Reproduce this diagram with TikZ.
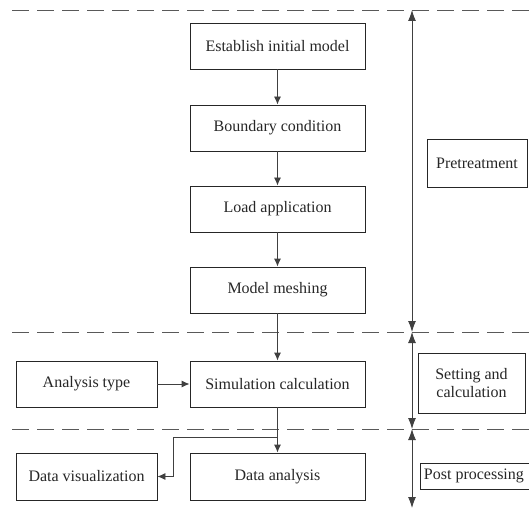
\documentclass[tikz,border=0pt]{standalone}
\usepackage{fontspec}
\setmainfont{Liberation Serif}
\usetikzlibrary{arrows.meta}
\begin{document}
\begin{tikzpicture}[x=1pt,y=-1pt,
  box/.style={draw=black!85,line width=0.9pt,minimum width=175pt,minimum height=46pt,inner sep=0pt,
    font=\fontsize{16}{19}\selectfont,text=black!85,align=center},
  arr/.style={draw=black!75,line width=0.9pt,-{Latex[length=8pt,width=7pt]}},
  darr/.style={draw=black!75,line width=0.9pt,{Latex[length=11pt,width=8pt]}-{Latex[length=11pt,width=8pt]}},
  sep/.style={draw=black!65,line width=0.9pt,dash pattern=on 17pt off 8pt}]
\useasboundingbox (0,0) rectangle (529,510);
% separators
\coordinate (s1l) at (12,10);  \coordinate (s1r) at (529,10);
\coordinate (s2l) at (12,332); \coordinate (s2r) at (529,332);
\coordinate (s3l) at (12,429); \coordinate (s3r) at (529,429);
\draw[sep] (s1l) -- (s1r);
\draw[sep] (s2l) -- (s2r);
\draw[sep] (s3l) -- (s3r);
% main flow
\node[box] (est)  at (277.5,46)  {Establish initial model};
\node[box] (bnd)  at (277.5,128) {Boundary condition};
\node[box] (load) at (277.5,209) {Load application};
\node[box] (mesh) at (277.5,290) {Model meshing};
\node[box] (sim)  at (277.5,384) {Simulation calculation};
\node[box,minimum width=141pt] (atype) at (86.5,384) {Analysis type};
\node[box,minimum width=141pt,minimum height=47pt] (dvis) at (86.5,476.5) {Data visualization};
\node[box,minimum height=47pt] (dana) at (277.5,476.5) {Data analysis};
% right side labels
\node[box,minimum width=100pt,minimum height=48pt] (pre) at (477,163.5) {Pretreatment};
\node[box,minimum width=107pt,minimum height=60pt,font=\fontsize{16}{18}\selectfont] (set) at (471.5,383) {Setting and\\calculation};
\node[box,minimum width=112pt,minimum height=26pt,anchor=west] (post) at (420,476) {\hspace*{-5pt}Post processing};
% connectors
\draw[arr] (est) -- (bnd);
\draw[arr] (bnd) -- (load);
\draw[arr] (load) -- (mesh);
\draw[arr] (mesh) -- (sim);
\draw[arr] (atype) -- (sim);
\draw[arr] (sim) -- (dana);
\coordinate (b1) at (173,437);
\draw[arr] (sim.south) |- (b1) |- (dvis.east);
% stage arrows
\coordinate (r1) at (412,10);
\coordinate (r2) at (412,332);
\coordinate (r3) at (412,429);
\coordinate (r4) at (412,508);
\draw[darr] (r1) -- (r2);
\draw[darr] (r2) -- (r3);
\draw[darr] (r3) -- (r4);
\end{tikzpicture}
\end{document}
